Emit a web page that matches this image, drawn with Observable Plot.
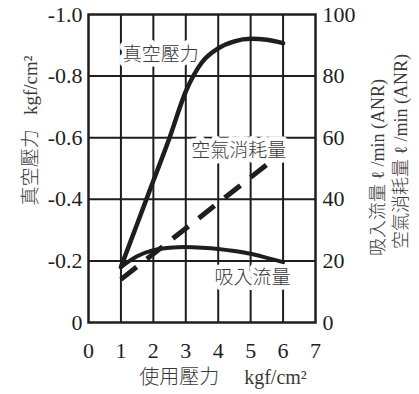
<!DOCTYPE html>
<html>
<head>
<meta charset="utf-8">
<script src="https://cdn.jsdelivr.net/npm/d3@7"></script>
<script src="https://cdn.jsdelivr.net/npm/@observablehq/plot@0.6"></script>
<style>
  html, body { margin: 0; padding: 0; background: #fff; }
</style>
</head>
<body>
<div id="chart"></div>
<script>
// ---- data ----
const xTicks = [0, 1, 2, 3, 4, 5, 6, 7];
const xGrid = [1, 2, 3, 4, 5, 6];
const vacTicks = [0, -0.2, -0.4, -0.6, -0.8, -1.0];
const vacTickLabels = ["0", "-0.2", "-0.4", "-0.6", "-0.8", "-1.0"];
const vacGrid = [-0.2, -0.4, -0.6, -0.8];
const flowTickLabels = ["0", "20", "40", "60", "80", "100"];

// 真空壓力 (kgf/cm², left axis)
const pressure = [1, 1.5, 2, 2.5, 3, 3.5, 4, 4.5, 5, 5.5, 6];
const vacuum = [-0.18, -0.32, -0.46, -0.60, -0.75, -0.845, -0.89, -0.913, -0.921, -0.918, -0.907];
// 吸入流量 (ℓ/min ANR, right axis)
const suction = [18, 21.5, 23.5, 24.3, 24.5, 24.3, 23.9, 23.2, 22.3, 21, 19.6];
// 空氣消耗量 (ℓ/min ANR, right axis)
const airPressure = [1, 5.65];
const airFlow = [14, 52.5];

// in-plot labels
const labelText = ["真空壓力", "空氣消耗量", "吸入流量"];
const labelX = [2.23, 4.63, 5.06];
const labelY = [-0.87, -0.558, -0.144];

const leftTitle = "真空壓力 \u2002kgf/cm²";
const rightTitle1 = "吸入流量 ℓ /min (ANR)";
const rightTitle2 = "空氣消耗量 ℓ /min (ANR)";
const xTitle = "使用壓力\u2003 kgf/cm²";

// flow values share the y scale: 100 ℓ/min ↔ -1.0
const toY = v => -v / 100;

const vacData = pressure.map((p, i) => ({x: p, y: vacuum[i]}));
const sucData = pressure.map((p, i) => ({x: p, y: toY(suction[i])}));
const airData = airPressure.map((p, i) => ({x: p, y: toY(airFlow[i])}));
const labels = labelText.map((t, i) => ({t, x: labelX[i], y: labelY[i]}));
const leftTicks = vacTicks.map((v, i) => ({v, t: vacTickLabels[i]}));
const rightTicks = vacTicks.map((v, i) => ({v, t: flowTickLabels[i]}));

const ink = "#1e1e1e";
const serif = "'Liberation Serif', 'Times New Roman', 'Noto Sans CJK TC', serif";
const titleFont = {fontFamily: serif, fontWeight: 300, fill: "#3a3a3a", textAnchor: "middle", lineAnchor: "middle"};
const tickFont = {fontFamily: serif, fontSize: 22, fill: ink, lineAnchor: "middle"};

const chart = Plot.plot({
  width: 419,
  height: 394,
  marginLeft: 88,
  marginRight: 104,
  marginTop: 14,
  marginBottom: 72,
  x: {domain: [0, 7], axis: null},
  y: {domain: [0, -1], axis: null},
  style: {fontFamily: serif, fontSize: "20px", color: ink, background: "#fff"},
  marks: [
    Plot.ruleX(xGrid, {stroke: ink, strokeWidth: 2}),
    Plot.ruleY(vacGrid, {stroke: ink, strokeWidth: 2}),
    Plot.frame({stroke: ink, strokeWidth: 2.5}),
    // tick labels
    Plot.text(xTicks, {x: d => d, frameAnchor: "bottom", dy: 28, textAnchor: "middle", ...tickFont}),
    Plot.text(leftTicks, {y: "v", text: "t", frameAnchor: "left", dx: -6, textAnchor: "end", ...tickFont}),
    Plot.text(rightTicks, {y: "v", text: "t", frameAnchor: "right", dx: 7, textAnchor: "start", ...tickFont}),
    // in-plot labels with white backgrounds
    Plot.text(labels, {x: "x", y: "y", text: "t", fontSize: 19, fill: "#3a3a3a",
      stroke: "white", strokeWidth: 9, fontFamily: "'Noto Sans CJK TC', sans-serif", fontWeight: 300}),
    // curves
    Plot.line(airData, {x: "x", y: "y", stroke: ink, strokeWidth: 5, strokeDasharray: "20,13",
      strokeLinecap: "butt"}),
    Plot.line(sucData, {x: "x", y: "y", stroke: ink, strokeWidth: 4, curve: "monotone-x"}),
    Plot.line(vacData, {x: "x", y: "y", stroke: ink, strokeWidth: 4.5, curve: "monotone-x"}),
    // axis titles
    Plot.text([leftTitle], {frameAnchor: "left", dx: -58, dy: -38, rotate: -90, fontSize: 19, ...titleFont}),
    Plot.text([rightTitle1], {frameAnchor: "right", dx: 63, dy: -1, rotate: -90, fontSize: 18, ...titleFont}),
    Plot.text([rightTitle2], {frameAnchor: "right", dx: 86, dy: -17, rotate: -90, fontSize: 18, ...titleFont}),
    Plot.text([xTitle], {frameAnchor: "bottom", dx: 21, dy: 55, fontSize: 20, ...titleFont})
  ]
});
document.getElementById("chart").appendChild(chart);
</script>
</body>
</html>
